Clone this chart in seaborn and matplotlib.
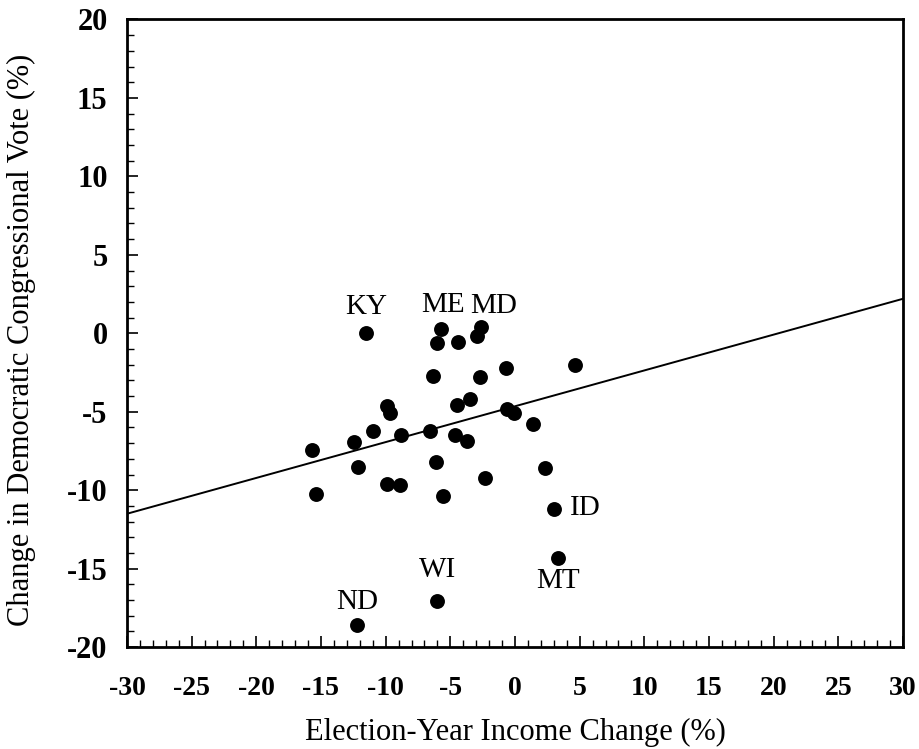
import numpy as np
import pandas as pd
import matplotlib
matplotlib.use("Agg")
import matplotlib.pyplot as plt
import seaborn as sns
from matplotlib.ticker import MultipleLocator

# ---- data ----
income_change = [-11.5, -5.7, -6.0, -4.4, -2.6, -2.95, -6.3, -2.7, -0.7, 4.65,
                 -9.9, -9.7, -3.5, -4.5, -0.6, -0.1, 1.4, -10.95, -8.8, -6.6,
                 -4.6, -3.7, -15.7, -12.45, -12.1, -6.1, 2.3, -9.9, -8.9, -2.3,
                 -15.4, -5.6, 3.0, 3.3, -6.0, -12.2]
vote_change = [0.0, 0.3, -0.6, -0.55, 0.4, -0.2, -2.7, -2.8, -2.2, -2.05,
               -4.65, -5.1, -4.2, -4.6, -4.85, -5.1, -5.75, -6.2, -6.5, -6.2,
               -6.45, -6.85, -7.45, -6.95, -8.55, -8.2, -8.6, -9.6, -9.65, -9.2,
               -10.25, -10.4, -11.2, -14.3, -17.05, -18.6]
state_labels = ["KY", "ME", "", "", "MD", "", "", "", "", "",
                "", "", "", "", "", "", "", "", "", "",
                "", "", "", "", "", "", "", "", "", "",
                "", "", "ID", "MT", "WI", "ND"]
fit_x = [-30, 30]
fit_y = [-11.5, 2.2]
x_ticks = list(range(-30, 31, 5))
y_ticks = list(range(-20, 21, 5))

df = pd.DataFrame({"income": income_change, "vote": vote_change, "state": state_labels})
fit_df = pd.DataFrame({"x": fit_x, "y": fit_y})

sns.set_theme(style="white")
plt.rcParams["font.family"] = ["Liberation Serif", "DejaVu Serif"]
plt.rcParams["text.color"] = "black"
plt.rcParams["axes.labelcolor"] = "black"
plt.rcParams["xtick.color"] = "black"
plt.rcParams["ytick.color"] = "black"

fig = plt.figure(figsize=(9.2, 7.49), dpi=100)
ax = fig.add_axes([0.138, 0.136, 0.8435, 0.838])

sns.lineplot(data=fit_df, x="x", y="y", ax=ax, color="black", linewidth=1.4)
sns.scatterplot(data=df, x="income", y="vote", ax=ax, color="black", s=115,
                edgecolor="black", linewidth=0, zorder=3)

# label offsets in points (dx, dy)
offsets = {"KY": (0, 19), "ME": (1, 17), "MD": (9, 15), "ID": (23, 1),
           "MT": (0, -17), "WI": (0, 22), "ND": (0, 17)}
for xv, yv, lab in zip(income_change, vote_change, state_labels):
    if lab:
        dx, dy = offsets[lab]
        ax.annotate(lab, (xv, yv), xytext=(dx, dy), textcoords="offset points",
                    ha="center", va="center", fontsize=21, color="black")

ax.set_xlim(-30, 30)
ax.set_ylim(-20, 20)
ax.set_xticks(x_ticks)
ax.set_yticks(y_ticks)
ax.set_xticklabels([str(t) for t in x_ticks], fontsize=20, fontweight="bold", color="black")
ax.set_yticklabels([str(t) for t in y_ticks], fontsize=22, fontweight="bold", color="black")
ax.xaxis.set_minor_locator(MultipleLocator(1))
ax.yaxis.set_minor_locator(MultipleLocator(1))
ax.tick_params(axis="both", which="major", direction="in", length=8, width=1.2,
               colors="black", bottom=True, left=True, top=False, right=False)
ax.tick_params(axis="both", which="minor", direction="in", length=5, width=1.0,
               colors="black", bottom=True, left=True, top=False, right=False)
ax.tick_params(axis="x", which="major", pad=21)
ax.tick_params(axis="y", which="major", pad=14)
for sp in ax.spines.values():
    sp.set_color("black")
    sp.set_linewidth(2.0)

ax.set_xlabel("Election-Year Income Change (%)", fontsize=22, color="black")
ax.set_ylabel("Change in Democratic Congressional Vote (%)", fontsize=22, color="black")
ax.xaxis.set_label_coords(0.5, -0.113)
ax.yaxis.set_label_coords(-0.117, 0.49)

fig.savefig("out.png", dpi=100, facecolor="white")
